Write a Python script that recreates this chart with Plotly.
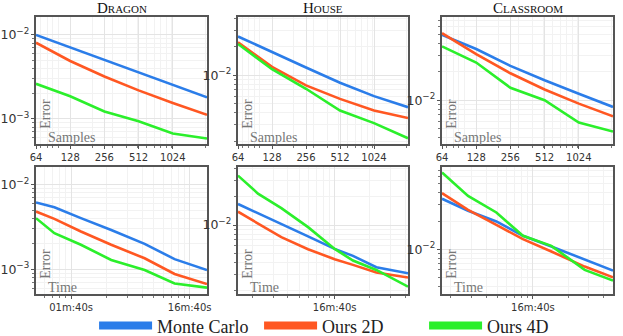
import math
import plotly.graph_objects as go

methods = ["Monte Carlo", "Ours 2D", "Ours 4D"]
colors = ["#2b7de9", "#ff5722", "#2bef2b"]
scenes = ["Dragon", "House", "Classroom"]

samples = [64, 128, 256, 512, 1024, 2048]
sample_ticks = [64, 128, 256, 512, 1024]

# error vs samples
dragon_spp = [
    [0.0100, 0.00710, 0.00505, 0.00358, 0.00255, 0.00181],
    [0.00810, 0.00490, 0.00320, 0.00219, 0.00155, 0.00112],
    [0.00262, 0.00186, 0.00123, 0.00094, 0.00067, 0.000585],
]
house_spp = [
    [0.0258, 0.0175, 0.0121, 0.00834, 0.00601, 0.00458],
    [0.0224, 0.0123, 0.00782, 0.00562, 0.00422, 0.00352],
    [0.0215, 0.0116, 0.00719, 0.00422, 0.00311, 0.00215],
]
classroom_spp = [
    [0.0493, 0.0349, 0.0231, 0.01626, 0.0117, 0.00849],
    [0.0514, 0.0308, 0.0193, 0.0130, 0.0092, 0.00675],
    [0.0372, 0.0251, 0.01355, 0.0100, 0.00581, 0.00466],
]

# error vs time (seconds)
dragon_t = [50.6, 72.3, 121, 218, 417, 746, 1400]
dragon_time = [
    [0.00618, 0.00543, 0.00403, 0.00292, 0.00200, 0.00132, 0.00098],
    [0.00483, 0.00395, 0.00280, 0.00195, 0.00135, 0.00088, 0.00067],
    [0.00403, 0.00267, 0.00195, 0.00129, 0.00098, 0.00068, 0.000607],
]
house_t = [150, 222, 351, 593, 1000, 1432, 2265, 4217]
house_time = [
    [0.0168, 0.01345, 0.01033, 0.00757, 0.00557, 0.00469, 0.00355, 0.00306],
    [0.0139, 0.0105, 0.00743, 0.00553, 0.00432, 0.00376, 0.00311, 0.00275],
    [0.0338, 0.0217, 0.0152, 0.00952, 0.00557, 0.00418, 0.00332, 0.0022],
]
classroom_t = [168, 280, 488, 822, 1435, 2760, 4810]
classroom_time = [
    [0.0346, 0.0258, 0.0198, 0.0139, 0.0107, 0.00782, 0.0059],
    [0.0398, 0.0264, 0.0182, 0.0128, 0.00944, 0.00652, 0.00501],
    [0.0662, 0.0372, 0.0247, 0.0139, 0.01086, 0.00601, 0.00461],
]
time_ticks = [100, 1000]
time_labels = ["01m:40s", "16m:40s"]

# y ranges (log10) per panel
top_yrange = [[-3.298, -1.786], [-2.729, -1.382], [-2.464, -1.118]]
bot_yrange = [[-3.292, -1.79], [-2.736, -1.379], [-2.479, -1.121]]

W, H = 623, 336
cols_px = [(36, 207), (238, 408), (442, 613)]
rows_px = [(17, 144), (167, 294)]

fig = go.Figure()
serif = "Liberation Serif"
tickfont = dict(family="DejaVu Sans", size=10, color="#333")

panels = [
    (dragon_spp, samples), (house_spp, samples), (classroom_spp, samples),
    (dragon_time, dragon_t), (house_time, house_t), (classroom_time, classroom_t),
]

for i, (data, xs) in enumerate(panels):
    r, c = divmod(i, 3)
    n = i + 1
    xa = "x" if n == 1 else f"x{n}"
    ya = "y" if n == 1 else f"y{n}"
    for m in range(3):
        fig.add_trace(go.Scatter(
            x=xs, y=data[m], mode="lines", name=methods[m],
            line=dict(color=colors[m], width=2.6),
            xaxis=xa, yaxis=ya, legendgroup=methods[m], showlegend=False,
        ))
    x0, x1 = cols_px[c]
    y0, y1 = rows_px[r]
    xkey = "xaxis" if n == 1 else f"xaxis{n}"
    ykey = "yaxis" if n == 1 else f"yaxis{n}"
    axcommon = dict(
        showline=True, mirror=True, linecolor="#555", linewidth=1.5,
        showgrid=True, gridcolor="#e4e4e4", gridwidth=1, zeroline=False,
        ticks="outside", ticklen=3, tickcolor="#555", tickfont=tickfont,
    )
    minor = dict(showgrid=True, gridcolor="#f2f2f2", ticks="outside",
                 ticklen=2, tickcolor="#777", dtick="D1")
    if r == 0:
        xcfg = dict(type="log", range=[math.log10(64), math.log10(2048)],
                    tickvals=sample_ticks, ticktext=[str(v) for v in sample_ticks])
    else:
        xcfg = dict(type="log", range=[math.log10(xs[0]), math.log10(xs[-1])],
                    tickvals=time_ticks, ticktext=time_labels)
    fig.layout[xkey] = dict(domain=[x0 / W, x1 / W], anchor=ya, minor=minor,
                            **axcommon, **xcfg)
    yr = top_yrange[c] if r == 0 else bot_yrange[c]
    fig.layout[ykey] = dict(
        domain=[1 - y1 / H, 1 - y0 / H], anchor=xa, type="log", range=yr,
        dtick=1, exponentformat="power", minor=minor, **axcommon,
    )
    # in-plot axis captions
    fig.add_annotation(text="Error", xref=f"{xa} domain", yref=f"{ya} domain",
                       x=0.0, y=0.1, xanchor="left", yanchor="bottom", textangle=-90,
                       showarrow=False, font=dict(family=serif, size=14, color="#777"))
    fig.add_annotation(text="Samples" if r == 0 else "Time", xref=f"{xa} domain", yref=f"{ya} domain",
                       x=0.06, y=-0.02, xanchor="left", yanchor="bottom",
                       showarrow=False, font=dict(family=serif, size=14, color="#777"))
    if r == 0:
        name = scenes[c]
        fig.add_annotation(
            text=f'{name[0]}<span style="font-size:11px">{name[1:].upper()}</span>',
            xref=f"{xa} domain", yref=f"{ya} domain", x=0.5, y=1.0,
            xanchor="center", yanchor="middle", yshift=9, showarrow=False,
            font=dict(family=serif, size=15, color="#111"),
        )

# legend-only entries with thick strokes
for m in range(3):
    fig.add_trace(go.Scatter(
        x=[None], y=[None], mode="lines", name=methods[m],
        line=dict(color=colors[m], width=8), legendgroup=methods[m], showlegend=True,
    ))

fig.update_layout(
    width=W, height=H, margin=dict(l=0, r=0, t=0, b=0, autoexpand=False),
    paper_bgcolor="white", plot_bgcolor="white",
    showlegend=True,
    legend=dict(orientation="h", x=0.151, xanchor="left", y=0.03, yanchor="middle",
                font=dict(family=serif, size=18, color="#222"), itemwidth=53,
                entrywidth=97, tracegroupgap=0, bgcolor="rgba(0,0,0,0)"),
)

fig.write_html("out.html", config={"displayModeBar": False},
               post_script="document.body.style.margin='0px';")
